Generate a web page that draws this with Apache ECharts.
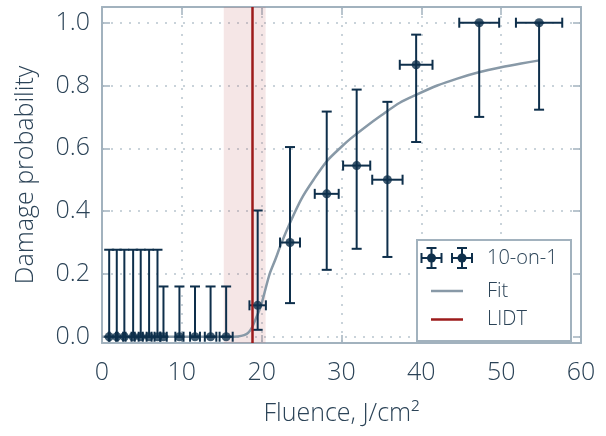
<!DOCTYPE html>
<html lang="en">
<head>
  <meta charset="UTF-8">
  <title>Damage probability vs fluence</title>
</head>
<body>
<div id="chart"></div>
<style>
  html, body {
    margin: 0;
    width: 100%;
    height: 100%;
    background: #fff;
  }
  #chart {
    width: 606px;
    height: 436px;
  }
</style>
<script src="https://cdn.jsdelivr.net/npm/echarts@6/dist/echarts.min.js"></script>
<script>
  // 10-on-1 measurements
  const fluence    = [0.9, 1.85, 2.8, 3.9, 4.85, 5.9, 6.95, 7.7, 9.7, 11.65, 13.6, 15.55,
                      19.5, 23.55, 28.15, 31.9, 35.75, 39.35, 47.25, 54.75];
  const fluenceErr = [0.05, 0.1, 0.15, 0.2, 0.26, 0.31, 0.37, 0.41, 0.51, 0.62, 0.72, 0.82,
                      1.03, 1.25, 1.5, 1.7, 1.9, 2.05, 2.5, 2.9];
  const probability = [0, 0, 0, 0, 0, 0, 0, 0, 0, 0, 0, 0,
                       0.1, 0.3, 0.455, 0.545, 0.5, 0.866, 1.0, 1.0];
  const probLow  = [0, 0, 0, 0, 0, 0, 0, 0, 0, 0, 0, 0,
                    0.022, 0.107, 0.213, 0.28, 0.254, 0.62, 0.70, 0.723];
  const probHigh = [0.277, 0.277, 0.277, 0.277, 0.277, 0.277, 0.277, 0.16, 0.16, 0.16, 0.16, 0.16,
                    0.402, 0.604, 0.717, 0.787, 0.748, 0.962, 1.0, 1.0];

  // fit curve
  const fitX = [0, 16, 17, 17.8, 18.3, 18.8, 19.3, 19.8, 20.2, 21, 21.7, 22.5, 23.5, 25, 26.5,
                28.2, 30, 31.1, 33, 35, 37.3, 39.4, 42, 44.5, 47.2, 50, 52.5, 54.8];
  const fitY = [0, 0, 0.001, 0.005, 0.012, 0.03, 0.06, 0.09, 0.125, 0.2, 0.245, 0.3, 0.36, 0.44, 0.5,
                0.56, 0.605, 0.63, 0.668, 0.705, 0.745, 0.771, 0.8, 0.822, 0.842, 0.858, 0.87, 0.88];

  const lidt = 18.85;
  const lidtBand = [15.25, 20.5];

  const navy = '#0e2f4b';
  const textColor = '#2b4357';
  const frameColor = '#a2b2be';
  const fitColor = '#8899a7';
  const lidtColor = '#9c1b1b';
  const font = 'Open Sans';

  const chart = echarts.init(document.getElementById('chart'));

  function errorBar(params, api) {
    const x = api.value(0), y = api.value(1), xe = api.value(2);
    const lo = api.coord([x, api.value(3)]);
    const hi = api.coord([x, api.value(4)]);
    const left = api.coord([x - xe, y]);
    const right = api.coord([x + xe, y]);
    const cap = 5;
    const style = { stroke: navy, lineWidth: 2 };
    const seg = (x1, y1, x2, y2) => ({ type: 'line', shape: { x1, y1, x2, y2 }, style });
    return {
      type: 'group',
      children: [
        seg(lo[0], lo[1], hi[0], hi[1]),
        seg(lo[0] - cap, lo[1], lo[0] + cap, lo[1]),
        seg(hi[0] - cap, hi[1], hi[0] + cap, hi[1]),
        seg(left[0], left[1], right[0], right[1]),
        seg(left[0], left[1] - cap, left[0], left[1] + cap),
        seg(right[0], right[1] - cap, right[0], right[1] + cap)
      ]
    };
  }

  const yFmt = v => Math.abs(v * 5 - Math.round(v * 5)) < 1e-6 ? v.toFixed(1) : '';

  const axisCommon = {
    axisLine: { show: true, onZero: false, lineStyle: { color: frameColor, width: 2 } },
    axisTick: { show: true, inside: true, length: 8, lineStyle: { color: frameColor, width: 1.5 } }
  };

  // legend box drawn by hand (matplotlib style)
  const lx = 431.5, ly = [258, 291, 319.5];
  function legendErrIcon(cx, cy) {
    const s = { stroke: navy, lineWidth: 2 };
    return [
      { type: 'line', shape: { x1: cx - 10, y1: cy, x2: cx + 10, y2: cy }, style: s },
      { type: 'line', shape: { x1: cx - 10, y1: cy - 5, x2: cx - 10, y2: cy + 5 }, style: s },
      { type: 'line', shape: { x1: cx + 10, y1: cy - 5, x2: cx + 10, y2: cy + 5 }, style: s },
      { type: 'line', shape: { x1: cx, y1: cy - 10, x2: cx, y2: cy + 10 }, style: s },
      { type: 'line', shape: { x1: cx - 5, y1: cy - 10, x2: cx + 5, y2: cy - 10 }, style: s },
      { type: 'line', shape: { x1: cx - 5, y1: cy + 10, x2: cx + 5, y2: cy + 10 }, style: s },
      { type: 'circle', shape: { cx, cy, r: 4.5 }, style: { fill: navy } }
    ];
  }
  const legendText = (t, y) => ({
    type: 'text', x: 487, y: y,
    style: { text: t, fill: textColor, font: '300 20px "' + font + '"', textVerticalAlign: 'middle' }
  });
  const legendItems = [
    ...legendErrIcon(lx, ly[0]),
    ...legendErrIcon(lx + 30.5, ly[0]),
    { type: 'line', shape: { x1: 431, y1: ly[1], x2: 463, y2: ly[1] }, style: { stroke: fitColor, lineWidth: 2.5 } },
    { type: 'line', shape: { x1: 431, y1: ly[2], x2: 463, y2: ly[2] }, style: { stroke: lidtColor, lineWidth: 2.5 } },
    legendText('10-on-1', ly[0]),
    legendText('Fit', ly[1]),
    legendText('LIDT', ly[2])
  ].map(el => ({ ...el, z: 110 }));

  chart.setOption({
    backgroundColor: '#fff',
    animation: false,
    textStyle: { fontFamily: font },
    grid: { left: 102, right: 25, top: 7, bottom: 93 },
    xAxis: [{
      type: 'value', min: 0, max: 60, interval: 10,
      ...axisCommon,
      name: 'Fluence, J/cm²', nameLocation: 'middle', nameGap: 58,
      nameTextStyle: { color: textColor, fontSize: 25, fontWeight: 300 },
      axisLabel: { color: textColor, fontSize: 25, fontWeight: 300, margin: 17 },
      splitLine: { show: true, lineStyle: { color: '#c9d3da', width: 2, type: [2, 7] } }
    }, {
      type: 'value', min: 0, max: 60, interval: 10, position: 'top',
      ...axisCommon,
      axisLabel: { show: false }, splitLine: { show: false }
    }],
    yAxis: [{
      type: 'value', min: -0.02, max: 1.05, splitNumber: 5,
      ...axisCommon,
      name: 'Damage probability', nameLocation: 'middle', nameGap: 64,
      nameTextStyle: { color: textColor, fontSize: 25, fontWeight: 300 },
      axisLabel: { color: textColor, fontSize: 25, fontWeight: 300, margin: 12, formatter: yFmt },
      splitLine: { show: true, lineStyle: { color: '#c9d3da', width: 2, type: [2, 7] } }
    }, {
      type: 'value', min: -0.02, max: 1.05, splitNumber: 5, position: 'right',
      ...axisCommon,
      axisLabel: { show: false }, splitLine: { show: false }
    }],
    series: [{
      name: 'LIDT',
      type: 'line',
      data: [],
      markArea: {
        silent: true,
        itemStyle: { color: 'rgba(190, 90, 90, 0.15)' },
        data: [[{ xAxis: lidtBand[0] }, { xAxis: lidtBand[1] }]]
      },
      markLine: {
        silent: true, symbol: 'none', label: { show: false },
        lineStyle: { color: lidtColor, width: 2.5, type: 'solid' },
        data: [{ xAxis: lidt }]
      },
      z: 3
    }, {
      name: 'Fit',
      type: 'line',
      smooth: 0.3,
      showSymbol: false,
      lineStyle: { color: fitColor, width: 2.5 },
      data: fitX.map((x, i) => [x, fitY[i]]),
      z: 2
    }, {
      name: '10-on-1 err',
      type: 'custom',
      renderItem: errorBar,
      data: fluence.map((x, i) => [x, probability[i], fluenceErr[i], probLow[i], probHigh[i]]),
      z: 4
    }, {
      name: '10-on-1',
      type: 'scatter',
      symbol: 'circle',
      symbolSize: 9,
      itemStyle: { color: navy },
      data: fluence.map((x, i) => [x, probability[i]]),
      z: 5
    }],
    graphic: [
      { type: 'rect', shape: { x: 417, y: 240, width: 154, height: 101 },
        style: { fill: '#fff', stroke: frameColor, lineWidth: 2 }, z: 100 },
      ...legendItems
    ]
  });
</script>
</body>
</html>
